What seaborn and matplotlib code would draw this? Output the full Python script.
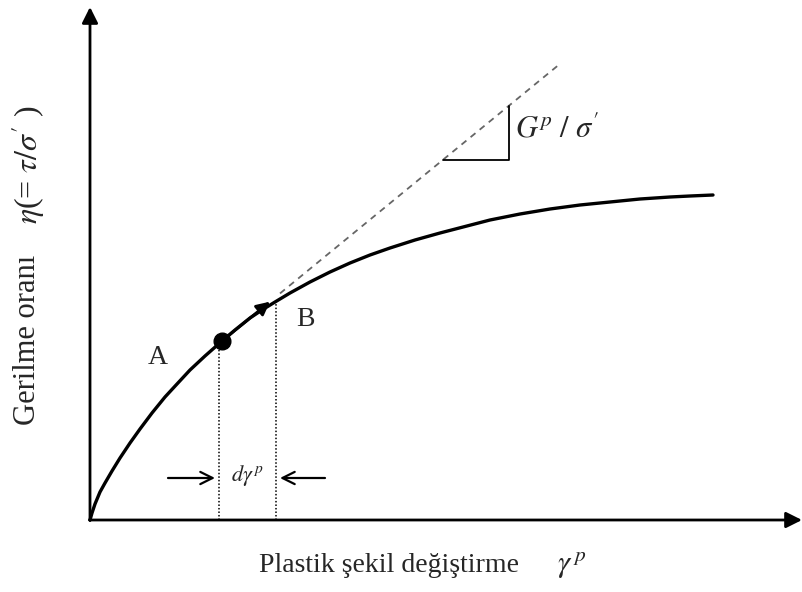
import matplotlib
matplotlib.use("Agg")
import matplotlib.pyplot as plt
import seaborn as sns
import pandas as pd

# Plastic strain vs. stress ratio curve (schematic values)
strain = [0.0, 0.02, 0.05, 0.10, 0.15, 0.22, 0.30, 0.40, 0.50, 0.62, 0.75,
          0.87, 1.00, 1.15, 1.32, 1.45, 1.60, 1.72, 1.85, 2.00, 2.20, 2.40,
          2.60, 2.80, 3.00, 3.25, 3.50, 3.75, 4.00, 4.30, 4.60, 4.90, 5.20,
          5.50, 5.80, 6.00, 6.23]
stress_ratio = [0.0, 0.07, 0.16, 0.28, 0.37, 0.49, 0.62, 0.77, 0.91, 1.07, 1.23,
                1.36, 1.50, 1.64, 1.79, 1.90, 2.02, 2.10, 2.18, 2.27, 2.38, 2.48,
                2.57, 2.65, 2.72, 2.80, 2.87, 2.935, 3.00, 3.06, 3.11, 3.15, 3.18,
                3.21, 3.23, 3.24, 3.25]

# Point A, point B and the tangent slope at A
point_a = (1.32, 1.79)
point_b_strain = 1.86
point_b_ratio = 2.18
dotted_a_strain = 1.29
dotted_a_ratio = 1.77
tangent_slope = 0.82
tangent_arrow_end = 1.80
tangent_dash_start = 1.90
tangent_dash_end = 4.68
triangle_left = 3.53
triangle_right = 4.19

curve = pd.DataFrame({"strain": strain, "ratio": stress_ratio})

sns.set_theme(style="white")
plt.rcParams["font.family"] = ["Liberation Serif", "DejaVu Serif"]
plt.rcParams["mathtext.fontset"] = "stix"

fig = plt.figure(figsize=(8.03, 5.92), dpi=100)
ax = fig.add_axes([0, 0, 1, 1])
ax.set_xlim(-0.9, 7.13)
ax.set_ylim(-0.72, 5.20)
ax.axis("off")


def tangent(x):
    return point_a[1] + tangent_slope * (x - point_a[0])


# axes with arrow heads
ax.annotate("", xy=(0, 5.13), xytext=(0, -0.005),
            arrowprops=dict(arrowstyle="-|>", lw=2.0, color="black",
                            mutation_scale=24, shrinkA=0, shrinkB=0))
ax.annotate("", xy=(7.12, 0), xytext=(-0.005, 0),
            arrowprops=dict(arrowstyle="-|>", lw=2.0, color="black",
                            mutation_scale=24, shrinkA=0, shrinkB=0))

# main curve
sns.lineplot(data=curve, x="strain", y="ratio", ax=ax, color="black",
             lw=2.4, sort=False, estimator=None, legend=False)

# tangent (dashed) line and slope triangle
ax.plot([tangent_dash_start, tangent_dash_end],
        [tangent(tangent_dash_start), tangent(tangent_dash_end)],
        color="#666666", lw=1.3, dashes=(3.5, 3.0))
ax.plot([triangle_left, triangle_right, triangle_right],
        [tangent(triangle_left), tangent(triangle_left), tangent(triangle_right)],
        color="black", lw=1.3)

# tangent arrow starting at A
ax.annotate("", xy=(tangent_arrow_end, tangent(tangent_arrow_end)), xytext=point_a,
            arrowprops=dict(arrowstyle="-|>", lw=2.0, color="black",
                            mutation_scale=20, shrinkA=0, shrinkB=0))
ax.plot([point_a[0]], [point_a[1]], "o", color="black", markersize=12)

# dotted verticals at A and B
ax.plot([dotted_a_strain, dotted_a_strain], [0, dotted_a_ratio], color="black",
        lw=1.1, linestyle=(0, (1, 1.3)))
ax.plot([point_b_strain, point_b_strain], [0, point_b_ratio], color="black",
        lw=1.1, linestyle=(0, (1, 1.3)))

# d gamma^p increment arrows
ax.annotate("", xy=(1.25, 0.42), xytext=(0.78, 0.42),
            arrowprops=dict(arrowstyle="->", lw=1.6, color="black",
                            mutation_scale=22, shrinkA=0, shrinkB=0))
ax.annotate("", xy=(1.90, 0.42), xytext=(2.35, 0.42),
            arrowprops=dict(arrowstyle="->", lw=1.6, color="black",
                            mutation_scale=22, shrinkA=0, shrinkB=0))
ax.text(1.575, 0.45, r"$d\gamma^{\,p}$", fontsize=16, ha="center", va="center")

# point labels
ax.text(0.68, 1.63, "A", fontsize=20, ha="center", va="center")
ax.text(2.15, 2.00, "B", fontsize=20, ha="center", va="center")
ax.text(4.25, 3.90, r"$G^{p}\ /\ \sigma'$", fontsize=22, ha="left", va="center")

# axis titles
ax.text(2.99, -0.45, "Plastik şekil değiştirme", fontsize=20, ha="center", va="center")
ax.text(4.82, -0.45, r"$\gamma^{\,p}$", fontsize=22, ha="center", va="center")
ax.text(-0.62, 1.80, "Gerilme oranı", fontsize=22, rotation=90,
        ha="center", va="center")
ax.text(-0.62, 3.55, r"$\eta$(= $\tau/\sigma^{\prime}$ )", fontsize=23, rotation=90,
        ha="center", va="center")

fig.savefig("out.png", dpi=100)
